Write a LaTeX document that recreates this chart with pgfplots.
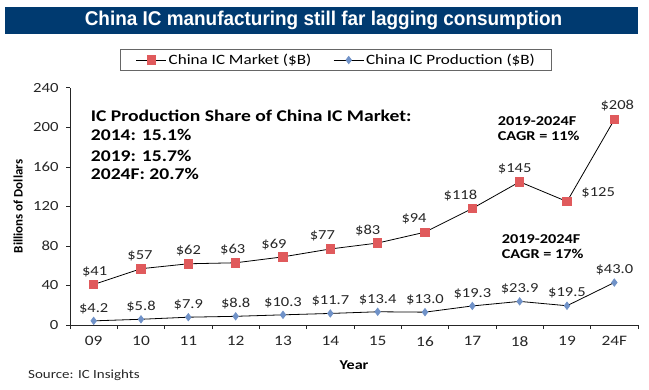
\documentclass[border=0pt]{standalone}
\usepackage{pgfplots}
\pgfplotsset{compat=1.18}
\usepackage{pgfplotstable}
\usepackage{fontspec}
\setmainfont{Carlito}[FakeStretch=1.2]
\newfontfamily\plainfont{Carlito}
\newfontfamily\titlefont{Liberation Sans}[FakeStretch=0.95]
\definecolor{navy}{HTML}{003A70}
\definecolor{mred}{HTML}{E05A5C}
\definecolor{pblue}{HTML}{7092C8}
\pgfplotstableread{
x m
0 41
1 57
2 62
3 63
4 69
5 77
6 83
7 94
8 118
9 145
10 125
11 208
}\marketdata
\pgfplotstableread{
x p
0 4.2
1 5.8
2 7.9
3 8.8
4 10.3
5 11.7
6 13.4
7 13.0
8 19.3
9 23.9
10 19.5
11 43.0
}\proddata
\begin{document}
\begin{tikzpicture}
\path[use as bounding box] (-70bp,-65bp) rectangle (579bp,325bp);
\fill[navy] (-65bp,291bp) rectangle (568bp,318bp);
\node[text=white, font=\titlefont\bfseries\fontsize{20}{23}\selectfont, anchor=center] at (253.5bp,304.5bp) {China IC manufacturing still far lagging consumption};
\begin{axis}[
  at={(0,0)}, anchor=south west,
  scale only axis, width=568bp, height=237bp,
  xmin=-0.5, xmax=11.5, ymin=0, ymax=240,
  axis x line*=bottom, axis y line*=left,
  axis line style={line width=1bp, black!85},
  ytick={0,40,...,240},
  xtick={0,...,11},
  xticklabels={09,10,11,12,13,14,15,16,17,18,19,24F},
  minor xtick={-0.5,0.5,...,11.5},
  major x tick style={draw=none},
  tick align=outside, tick pos=left,
  major tick length=4bp, minor tick length=4bp,
  tick style={line width=1bp, black!85},
  /pgf/number format/assume math mode=true,
  xticklabel style={font=\fontsize{14.5}{16}\selectfont, text=black!85, yshift=-4bp},
  yticklabel style={font=\fontsize{14}{16}\selectfont, text=black!85, xshift=-4bp},
  xlabel={\textbf{Year}},
  xlabel style={font=\fontsize{13.5}{15}\selectfont, at={(axis description cs:0.5,0)}, anchor=center, yshift=-40bp},
  ylabel={\plainfont\bfseries Billions of Dollars},
  ylabel style={font=\fontsize{13}{15}\selectfont, at={(axis description cs:-0.0915,0.5)}, anchor=center},
  legend style={at={(axis description cs:0.469,1.118)}, anchor=center, legend columns=2,
    draw=black!60, line width=1bp, font=\fontsize{14.3}{16}\selectfont, inner xsep=15bp, inner ysep=2.5bp,
    /tikz/every even column/.append style={column sep=20bp}},
  legend image code/.code={\draw[mark repeat=2,mark phase=2] plot coordinates {(0bp,0bp) (15bp,0bp) (30bp,0bp)};},
  clip=false,
]
\addplot[black, line width=0.8bp, mark=square*, mark size=4.2bp, mark options={fill=mred, draw=mred}]
  table[x=x, y=m] {\marketdata};
\addlegendentry{China IC Market (\$B)}
\addplot[black, line width=0.8bp, mark=diamond*, mark size=3.6bp, mark options={fill=pblue, draw=pblue},
  point meta=explicit symbolic,
  nodes near coords={\$\pgfplotspointmeta},
  every node near coord/.append style={font=\fontsize{13.8}{15}\selectfont, text=black!85, anchor=south, yshift=3.5bp}]
  table[x=x, y=p, meta=p] {\proddata};
\addlegendentry{China IC Production (\$B)}
\addplot[forget plot, draw=none, mark=none,
  point meta=explicit symbolic,
  nodes near coords={\$\pgfplotspointmeta},
  every node near coord/.append style={font=\fontsize{13.8}{15}\selectfont, text=black!85,
    /utils/exec={%
      \pgfmathsetmacro\myxs{{1,-1,0,-3,-9,-8,-10,-11,-12,-5,11,3}[\coordindex]}%
      \pgfmathsetmacro\myys{{4,4,4,4,3,4,3,5,4,4,9,5}[\coordindex]}%
      \ifnum\coordindex=10 \def\myanc{west}\else\def\myanc{south}\fi},
    anchor=\myanc, xshift=\myxs pt, yshift=\myys pt}]
  table[x=x, y=m, meta=m] {\marketdata};
\node[anchor=west, font=\bfseries\fontsize{16.4}{18}\selectfont, inner sep=0] at (axis cs:-0.063,211.6) {IC Production Share of China IC Market:};
\node[anchor=west, font=\bfseries\fontsize{16.4}{18}\selectfont, inner sep=0] at (axis cs:-0.063,192.4) {2014: 15.1\%};
\node[anchor=west, font=\bfseries\fontsize{16.4}{18}\selectfont, inner sep=0] at (axis cs:-0.063,171.1) {2019: 15.7\%};
\node[anchor=west, font=\bfseries\fontsize{16.4}{18}\selectfont, inner sep=0] at (axis cs:-0.063,152.9) {2024F: 20.7\%};
\node[anchor=west, font=\bfseries\fontsize{13.6}{15}\selectfont, inner sep=0] at (axis cs:8.535,206.6) {2019-2024F};
\node[anchor=west, font=\bfseries\fontsize{13.6}{15}\selectfont, inner sep=0] at (axis cs:8.535,191.4) {CAGR = 11\%};
\node[anchor=west, font=\bfseries\fontsize{13.6}{15}\selectfont, inner sep=0] at (axis cs:8.62,87.1) {2019-2024F};
\node[anchor=west, font=\bfseries\fontsize{13.6}{15}\selectfont, inner sep=0] at (axis cs:8.62,71.9) {CAGR = 17\%};
\end{axis}
\node[anchor=west, font=\fontsize{12.5}{14}\selectfont, text=black!85, inner sep=0] at (-42bp,-50bp) {Source: IC Insights};
\end{tikzpicture}
\end{document}
